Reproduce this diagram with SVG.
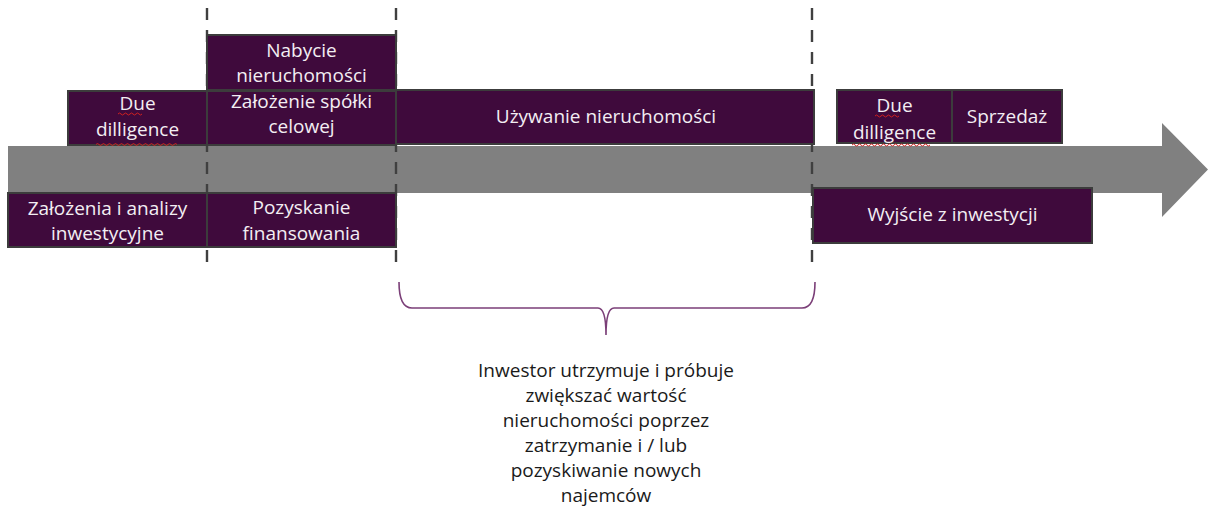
<svg xmlns="http://www.w3.org/2000/svg" width="1214" height="516" viewBox="0 0 1214 516">
<style>
.box{fill:#3f0a3c;stroke:#3c3c3c;stroke-width:2}
.bt{font-family:"Open Sans","Liberation Sans",sans-serif;font-size:19px;fill:#f3eef3;text-anchor:middle}
.nt{font-family:"Open Sans","Liberation Sans",sans-serif;font-size:19px;fill:#1a1a1a;text-anchor:middle}
.dash{stroke:#404040;stroke-width:2.4;stroke-dasharray:12 10;fill:none}
.wavy{fill:none;stroke:#d02020;stroke-width:1}
</style>
<g id="arrow">
<polygon points="8,146 1162,146 1162,123 1208,169.5 1162,217 1162,193 8,193" fill="#808080"/>
</g>
<g id="connectors">
<line class="dash" x1="207" y1="8" x2="207" y2="272"/>
<line class="dash" x1="396" y1="8" x2="396" y2="272"/>
<line class="dash" x1="812" y1="8" x2="812" y2="272"/>
<path d="M399,282 Q399,308 412,308 L598,308 Q606,308 606,335 Q606,308 614,308 L802,308 Q815,308 815,282" fill="none" stroke="#7b3f78" stroke-width="1.6"/>
</g>
<g id="nabycie">
<rect class="box" x="207" y="35" width="189" height="55"/>
<text class="bt" x="301.5" y="57">Nabycie</text>
<text class="bt" x="301.5" y="82">nieruchomości</text>
</g>
<g id="due1">
<rect class="box" x="68" y="91" width="139" height="54"/>
<text class="bt" x="137.5" y="110">Due</text>
<text class="bt" x="137.5" y="136">dilligence</text>
<path class="wavy" d="M118,114 q1.5,-2 3,0 t3,0 t3,0 t3,0 t3,0 t3,0 t3,0 t3,0"/>
<path class="wavy" d="M96,144.5 q1.5,-2 3,0 t3,0 t3,0 t3,0 t3,0 t3,0 t3,0 t3,0 t3,0 t3,0 t3,0 t3,0 t3,0 t3,0 t3,0 t3,0 t3,0 t3,0 t3,0 t3,0 t3,0 t3,0 t3,0 t3,0 t3,0 t3,0 t3,0"/>
</g>
<g id="zalozenie-spolki">
<rect class="box" x="207" y="91" width="189" height="54"/>
<text class="bt" x="301.5" y="108">Założenie spółki</text>
<text class="bt" x="301.5" y="133">celowej</text>
</g>
<g id="uzywanie">
<rect class="box" x="396" y="90" width="418" height="54"/>
<text class="bt" x="606" y="123">Używanie nieruchomości</text>
</g>
<g id="due2">
<rect class="box" x="837" y="90" width="115" height="53"/>
<text class="bt" x="894.5" y="112">Due</text>
<text class="bt" x="894.5" y="139">dilligence</text>
<path class="wavy" d="M875,116 q1.5,-2 3,0 t3,0 t3,0 t3,0 t3,0 t3,0 t3,0 t3,0"/>
<path class="wavy" d="M852,145 q1.5,-2 3,0 t3,0 t3,0 t3,0 t3,0 t3,0 t3,0 t3,0 t3,0 t3,0 t3,0 t3,0 t3,0 t3,0 t3,0 t3,0 t3,0 t3,0 t3,0 t3,0 t3,0 t3,0 t3,0 t3,0 t3,0 t3,0"/>
</g>
<g id="sprzedaz">
<rect class="box" x="952" y="90" width="110" height="53"/>
<text class="bt" x="1007" y="123">Sprzedaż</text>
</g>
<g id="zalozenia-analizy">
<rect class="box" x="8" y="193" width="199" height="54"/>
<text class="bt" x="107.5" y="215">Założenia i analizy</text>
<text class="bt" x="107.5" y="240">inwestycyjne</text>
</g>
<g id="pozyskanie">
<rect class="box" x="207" y="193" width="189" height="54"/>
<text class="bt" x="301.5" y="214">Pozyskanie</text>
<text class="bt" x="301.5" y="240">finansowania</text>
</g>
<g id="wyjscie">
<rect class="box" x="813" y="188" width="279" height="55"/>
<text class="bt" x="952.5" y="221">Wyjście z inwestycji</text>
</g>
<g id="note">
<text class="nt" x="606" y="377">Inwestor utrzymuje i próbuje</text>
<text class="nt" x="606" y="402">zwiększać wartość</text>
<text class="nt" x="606" y="427">nieruchomości poprzez</text>
<text class="nt" x="606" y="452">zatrzymanie i / lub</text>
<text class="nt" x="606" y="477">pozyskiwanie nowych</text>
<text class="nt" x="606" y="502">najemców</text>
</g>
</svg>
